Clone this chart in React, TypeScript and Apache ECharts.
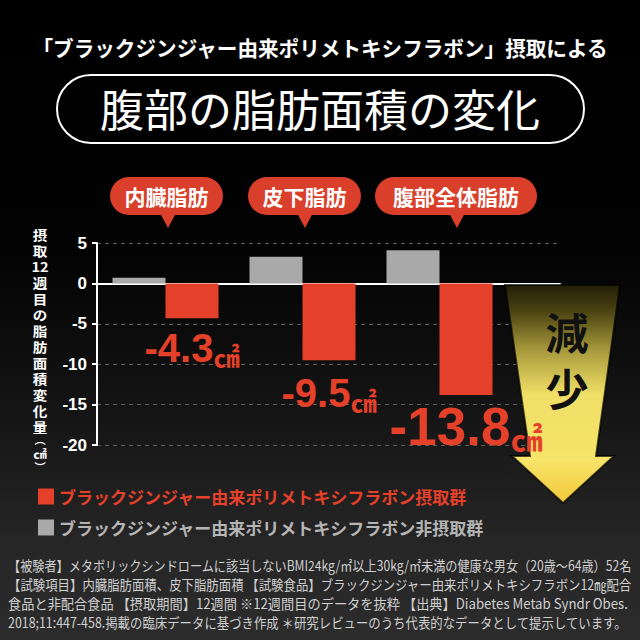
import React, { useEffect, useRef } from 'react';
import * as echarts from 'echarts';

// ---------- data ----------
const categories = ['内臓脂肪', '皮下脂肪', '腹部全体脂肪'];
const intakeValues = [-4.3, -9.5, -13.8];
const nonIntakeValues = [0.7, 3.3, 4.1];
const intakeName = 'ブラックジンジャー由来ポリメトキシフラボン摂取群';
const nonIntakeName = 'ブラックジンジャー由来ポリメトキシフラボン非摂取群';
const yMin = -20;
const yMax = 5;
const yInterval = 5;
const unitLabel = '㎠';
const subtitle = '「ブラックジンジャー由来ポリメトキシフラボン」摂取による';
const mainTitle = '腹部の脂肪面積の変化';
const yNameParts = ['摂', '取', '12', '週', '目', 'の', '脂', '肪', '面', '積', '変', '化', '量'];
const arrowChars = ['減', '少'];
const footnotes = [
  '【被験者】メタボリックシンドロームに該当しないBMI24kg/㎡以上30kg/㎡未満の健康な男女（20歳〜64歳）52名',
  '【試験項目】内臓脂肪面積、皮下脂肪面積 【試験食品】ブラックジンジャー由来ポリメトキシフラボン12㎎配合',
  '食品と非配合食品 【摂取期間】12週間 ※12週間目のデータを抜粋 【出典】Diabetes Metab Syndr Obes.',
  '2018;11:447-458.掲載の臨床データに基づき作成 ＊研究レビューのうち代表的なデータとして提示しています。',
];

// ---------- styles ----------
const JP = '"Noto Sans CJK JP", "Noto Sans", sans-serif';
const NUM = '"Liberation Sans", Arial, sans-serif';
const RED = '#e5402a';
const TAG_RED = '#d93f2b';
const GRAY = '#a9a9a9';
const labelNumSizes = [40, 40, 53];
const labelUnitSizes = [26, 26, 32];
const labelDistances = [10, 13, 5];

export default function App() {
  const ref = useRef<HTMLDivElement>(null);

  useEffect(() => {
    const el = ref.current as HTMLDivElement;
    const chart = echarts.init(el, null, { renderer: 'svg' });
    const ctx = document.createElement('canvas').getContext('2d') as CanvasRenderingContext2D;
    const fit = (text: string, font: string, target: number) => {
      ctx.font = font;
      const w = ctx.measureText(text).width;
      return w > 0 ? target / w : 1;
    };

    const tags = [
      { x: 110, w: 113, px: 168 },
      { x: 248, w: 113, px: 305 },
      { x: 375, w: 162, px: 457 },
    ];

    const graphic: any[] = [];

    // subtitle
    graphic.push({
      type: 'text',
      x: 320,
      y: 47,
      scaleX: fit(subtitle, `bold 21px ${JP}`, 577),
      style: {
        text: subtitle,
        fill: '#fff',
        fontSize: 21,
        fontWeight: 'bold',
        fontFamily: JP,
        align: 'center',
        verticalAlign: 'middle',
        textAlign: 'center',
        textVerticalAlign: 'middle',
      },
    });
    // pill outline
    graphic.push({
      type: 'rect',
      shape: { x: 57, y: 75, width: 527, height: 68, r: 34 },
      style: { fill: 'none', stroke: '#fff', lineWidth: 2 },
    });
    graphic.push({
      type: 'text',
      x: 320,
      y: 108,
      scaleX: fit(mainTitle, `normal 44px ${JP}`, 440),
      style: {
        text: mainTitle,
        fill: '#fff',
        fontSize: 44,
        fontWeight: 'normal',
        fontFamily: JP,
        align: 'center',
        verticalAlign: 'middle',
        textAlign: 'center',
        textVerticalAlign: 'middle',
      },
    });

    // category tags
    tags.forEach((t, i) => {
      graphic.push({
        type: 'rect',
        shape: { x: t.x, y: 177, width: t.w, height: 38, r: 19 },
        style: { fill: TAG_RED },
      });
      graphic.push({
        type: 'polygon',
        shape: { points: [[t.px - 8, 213], [t.px + 8, 213], [t.px, 228]] },
        style: { fill: TAG_RED },
      });
      graphic.push({
        type: 'text',
        x: t.x + t.w / 2,
        y: 196,
        style: {
          text: categories[i],
          fill: '#fff',
          fontSize: 21,
          fontWeight: 'bold',
          fontFamily: JP,
          align: 'center',
          verticalAlign: 'middle',
          textAlign: 'center',
          textVerticalAlign: 'middle',
        },
      });
    });

    // vertical y-axis name
    graphic.push({
      type: 'text',
      x: 40,
      y: 226,
      scaleX: 1.12,
      style: {
        text: yNameParts.join('\n') + '\n{p|︵}\n{u|' + unitLabel + '}\n{p|︶}',
        fill: '#fff',
        fontSize: 13,
        lineHeight: 16,
        fontWeight: 'bold',
        fontFamily: JP,
        align: 'center',
        verticalAlign: 'top',
        textAlign: 'center',
        textVerticalAlign: 'top',
        rich: {
          p: { fontSize: 10, lineHeight: 12, fill: '#fff', fontFamily: JP, fontWeight: 'bold' },
          u: { fontSize: 12, lineHeight: 15, fill: '#fff', fontFamily: JP, fontWeight: 'bold' },
        },
      },
    });

    // decrease arrow
    graphic.push({
      type: 'polygon',
      z: 1,
      shape: {
        points: [
          [505, 285],
          [620, 285],
          [596, 456],
          [614, 456],
          [563, 503],
          [512, 456],
          [530, 456],
        ],
      },
      style: {
        fill: {
          type: 'linear',
          x: 0,
          y: 0,
          x2: 0,
          y2: 1,
          colorStops: [
            { offset: 0, color: '#221e06' },
            { offset: 0.12, color: '#4a4312' },
            { offset: 0.3, color: '#a89a3c' },
            { offset: 0.5, color: '#efdf66' },
            { offset: 0.8, color: '#f7e46a' },
            { offset: 1, color: '#f3c93a' },
          ],
        },
        stroke: 'rgba(0,0,0,0.7)',
        lineWidth: 2,
      },
    });
    const arrowY = [331, 387];
    arrowChars.forEach((c, i) => {
      graphic.push({
        type: 'text',
        z: 1,
        x: 567,
        y: arrowY[i],
        style: {
          text: c,
          fill: '#111',
          fontSize: 43,
          lineHeight: 43,
          fontWeight: 'bold',
          fontFamily: JP,
          align: 'center',
          verticalAlign: 'middle',
          textAlign: 'center',
          textVerticalAlign: 'middle',
        },
      });
    });

    // footnotes
    const footY = [565, 584, 603, 622];
    const footW = [624, 624, 620, 620];
    footnotes.forEach((f, i) => {
      graphic.push({
        type: 'text',
        x: 8,
        y: footY[i],
        scaleX: fit(f, `normal 14px ${JP}`, footW[i]),
        style: {
          text: f,
          fill: '#d0d0d0',
          fontSize: 14,
          fontFamily: JP,
          align: 'left',
          verticalAlign: 'middle',
          textAlign: 'left',
          textVerticalAlign: 'middle',
        },
      });
    });

    const option: any = {
      animation: false,
      backgroundColor: 'transparent',
      grid: [
        { left: 97, right: 80, top: 243, height: 202 },
        { left: 97, right: 132, top: 243, height: 202 },
      ],
      xAxis: [
        {
          gridIndex: 0,
          type: 'value',
          min: 0,
          max: 1,
          axisLine: { show: true, onZero: true, lineStyle: { color: '#fff', width: 2 } },
          axisTick: { show: false },
          axisLabel: { show: false },
          splitLine: { show: false },
        },
        {
          gridIndex: 1,
          type: 'category',
          data: categories,
          axisLine: { show: false },
          axisTick: { show: false },
          axisLabel: { show: false },
          splitLine: { show: false },
        },
      ],
      yAxis: [
        {
          gridIndex: 0,
          type: 'value',
          min: yMin,
          max: yMax,
          interval: yInterval,
          axisLine: { show: false },
          axisTick: { show: false },
          axisLabel: { show: false },
          splitLine: { show: true, lineStyle: { color: '#5c5c5c', type: [4, 4], width: 1 } },
        },
        {
          gridIndex: 1,
          type: 'value',
          min: yMin,
          max: yMax,
          interval: yInterval,
          axisLine: { show: true, lineStyle: { color: '#fff', width: 2 } },
          axisTick: { show: true, length: 5, lineStyle: { color: '#fff', width: 2 } },
          axisLabel: {
            color: '#fff',
            fontSize: 17,
            fontWeight: 'bold',
            fontFamily: NUM,
            margin: 10,
          },
          splitLine: { show: false },
        },
      ],
      legend: {
        data: [
          { name: intakeName, textStyle: { color: RED } },
          { name: nonIntakeName, textStyle: { color: '#b5b5b5' } },
        ],
        orient: 'vertical',
        left: 33,
        top: 483,
        itemWidth: 16,
        itemHeight: 16,
        itemGap: 14,
        icon: 'rect',
        selectedMode: false,
        textStyle: { fontSize: 17, fontWeight: 'bold', fontFamily: JP },
      },
      series: [
        {
          name: nonIntakeName,
          type: 'bar',
          xAxisIndex: 1,
          yAxisIndex: 1,
          data: nonIntakeValues,
          barWidth: 53,
          barGap: '0%',
          itemStyle: { color: GRAY },
        },
        {
          name: intakeName,
          type: 'bar',
          xAxisIndex: 1,
          yAxisIndex: 1,
          barWidth: 53,
          barGap: '0%',
          itemStyle: { color: RED },
          data: intakeValues.map((v, i) => ({
            value: v,
            label: {
              show: true,
              position: 'bottom',
              distance: labelDistances[i],
              formatter: (p: any) => `{n|${p.value}}{u|${unitLabel}}`,
              rich: {
                n: {
                  fontSize: labelNumSizes[i],
                  fontWeight: 'bold',
                  fontFamily: NUM,
                  color: RED,
                  lineHeight: labelNumSizes[i],
                },
                u: {
                  fontSize: labelUnitSizes[i],
                  fontWeight: 'bold',
                  fontFamily: JP,
                  color: RED,
                  lineHeight: labelUnitSizes[i],
                  verticalAlign: 'bottom',
                },
              },
            },
          })),
        },
      ],
      graphic,
    };

    chart.setOption(option);
    return () => chart.dispose();
  }, []);

  return (
    <div
      ref={ref}
      style={{
        position: 'fixed',
        left: 0,
        top: 0,
        width: 640,
        height: 640,
        background: 'linear-gradient(180deg, #000 0%, #030303 40%, #151515 65%, #262626 85%, #2c2c2c 100%)',
      }}
    />
  );
}
